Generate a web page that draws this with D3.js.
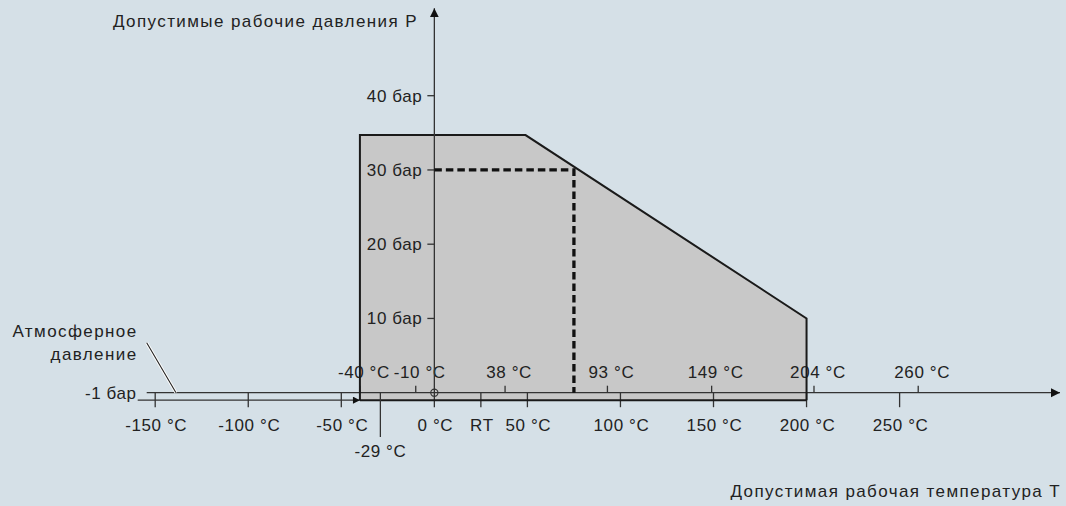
<!DOCTYPE html>
<html>
<head>
<meta charset="utf-8">
<script src="https://cdn.jsdelivr.net/npm/d3@7"></script>
<style>
  body { margin: 0; background: #d5e0e7; }
  svg { display: block; font-family: "Liberation Sans", Arial, sans-serif; }
  text { fill: #222; font-size: 17px; letter-spacing: 0.6px; }
  text.title { letter-spacing: 1.4px; }
</style>
</head>
<body>
<div id="chart"></div>
<script>
// Temperature ticks (°C) under the axis and their labels
const lowerTicks = [-150, -100, -50, 0, 25, 50, 100, 150, 200, 250];
const lowerLabels = ["-150 °C", "-100 °C", "-50 °C", "0 °C", "RT", "50 °C", "100 °C", "150 °C", "200 °C", "250 °C"];

// Equivalent temperatures shown above the axis
const upperTicks = [-40, -10, 38, 93, 149, 204, 260];
const upperLabels = ["-40 °C", "-10 °C", "38 °C", "93 °C", "149 °C", "204 °C", "260 °C"];

// Pressure ticks (bar)
const pressureTicks = [10, 20, 30, 40];

// Permitted operating range outline: [temperature °C, pressure bar]
const envelope = [[-40, -1], [-40, 34.7], [49, 34.7], [200, 10], [200, -1]];

// Example operating point
const opPoint = { t: 75, p: 30 };
const minTemp = -29;

const width = 1066;
const height = 506;

const svg = d3.select("#chart")
  .append("svg")
  .attr("width", width)
  .attr("height", height);

// Scales
const x = d3.scaleLinear().domain([-150, 250]).range([155.2, 899.6]);
const y = d3.scaleLinear().domain([0, 40]).range([392.7, 95.7]);

const axisColor = "#333";

// Arrow markers
const defs = svg.append("defs");
defs.append("marker")
  .attr("id", "arrow")
  .attr("viewBox", "0 0 10 10")
  .attr("refX", 10).attr("refY", 5)
  .attr("markerWidth", 9).attr("markerHeight", 10)
  .attr("markerUnits", "userSpaceOnUse")
  .attr("orient", "auto")
  .append("path")
  .attr("d", "M0,0L10,5L0,10Z")
  .attr("fill", "#111");

defs.append("marker")
  .attr("id", "arrowSmall")
  .attr("viewBox", "0 0 10 10")
  .attr("refX", 10).attr("refY", 5)
  .attr("markerWidth", 10).attr("markerHeight", 7)
  .attr("markerUnits", "userSpaceOnUse")
  .attr("orient", "auto")
  .append("path")
  .attr("d", "M0,0L10,5L0,10Z")
  .attr("fill", "#111");

// Envelope polygon
const line = d3.line()
  .x(d => x(d[0]))
  .y(d => y(d[1]));

svg.append("path")
  .attr("d", line(envelope) + "Z")
  .attr("fill", "#c8c8c8")
  .attr("stroke", "none");

// -1 bar line on the left, ending with a small arrow at the envelope
svg.append("line")
  .attr("x1", 137.7).attr("x2", x(envelope[0][0]))
  .attr("y1", y(-1)).attr("y2", y(-1))
  .attr("stroke", axisColor).attr("stroke-width", 1.3)
  .attr("marker-end", "url(#arrowSmall)");

// Horizontal (temperature) axis at 0 bar
svg.append("line")
  .attr("x1", 146.7).attr("x2", 1060)
  .attr("y1", y(0)).attr("y2", y(0))
  .attr("stroke", axisColor).attr("stroke-width", 1.3)
  .attr("marker-end", "url(#arrow)");

// Lower ticks
svg.append("g")
  .selectAll("line")
  .data(lowerTicks)
  .join("line")
  .attr("x1", d => x(d)).attr("x2", d => x(d))
  .attr("y1", y(0)).attr("y2", y(0) + 14.5)
  .attr("stroke", axisColor).attr("stroke-width", 1.3);

svg.append("g")
  .selectAll("text")
  .data(lowerTicks)
  .join("text")
  .attr("x", d => x(d) + 1)
  .attr("y", 430.5)
  .attr("text-anchor", "middle")
  .text((d, i) => lowerLabels[i]);

// Upper ticks
svg.append("g")
  .selectAll("line")
  .data(upperTicks)
  .join("line")
  .attr("x1", d => x(d)).attr("x2", d => x(d))
  .attr("y1", y(0) - 7).attr("y2", y(0))
  .attr("stroke", axisColor).attr("stroke-width", 1.3);

svg.append("g")
  .selectAll("text")
  .data(upperTicks)
  .join("text")
  .attr("x", d => x(d) + 4)
  .attr("y", 377.5)
  .attr("text-anchor", "middle")
  .text((d, i) => upperLabels[i]);

// Envelope outline (drawn over the axis lines)
svg.append("path")
  .attr("d", line(envelope))
  .attr("fill", "none")
  .attr("stroke", "#1a1a1a")
  .attr("stroke-width", 2)
  .attr("stroke-linejoin", "miter");

svg.append("line")
  .attr("x1", x(envelope[0][0])).attr("x2", x(envelope[envelope.length - 1][0]))
  .attr("y1", y(-1)).attr("y2", y(-1))
  .attr("stroke", "#1a1a1a").attr("stroke-width", 2);

// Vertical (pressure) axis
svg.append("line")
  .attr("x1", x(0)).attr("x2", x(0))
  .attr("y1", y(0)).attr("y2", 8.3)
  .attr("stroke", axisColor).attr("stroke-width", 1.3)
  .attr("marker-end", "url(#arrow)");

svg.append("g")
  .selectAll("line")
  .data(pressureTicks)
  .join("line")
  .attr("x1", x(0) - 7).attr("x2", x(0))
  .attr("y1", d => y(d)).attr("y2", d => y(d))
  .attr("stroke", axisColor).attr("stroke-width", 1.3);

svg.append("g")
  .selectAll("text")
  .data(pressureTicks)
  .join("text")
  .attr("x", x(0) - 12)
  .attr("y", d => y(d))
  .attr("dy", "0.35em")
  .attr("text-anchor", "end")
  .text(d => d + " бар");

// Dashed operating point lines
svg.append("path")
  .attr("d", line([[0, opPoint.p], [opPoint.t, opPoint.p], [opPoint.t, 0]]))
  .attr("fill", "none")
  .attr("stroke", "#111")
  .attr("stroke-width", 3.3)
  .attr("stroke-dasharray", "7.5,4");

// Origin circle
svg.append("circle")
  .attr("cx", x(0)).attr("cy", y(0))
  .attr("r", 3.6)
  .attr("fill", "none")
  .attr("stroke", axisColor).attr("stroke-width", 1.1);

// Minimum temperature marker
svg.append("line")
  .attr("x1", x(minTemp)).attr("x2", x(minTemp))
  .attr("y1", y(0)).attr("y2", 437)
  .attr("stroke", axisColor).attr("stroke-width", 1.3);

svg.append("text")
  .attr("x", x(minTemp))
  .attr("y", 457)
  .attr("text-anchor", "middle")
  .text(minTemp + " °C");

// Atmospheric pressure note
svg.append("text")
  .attr("x", 136.7).attr("y", y(0))
  .attr("dy", "0.35em")
  .attr("text-anchor", "end")
  .text("-1 бар");

svg.append("text")
  .attr("class", "title")
  .attr("x", 137.5).attr("y", 336.7)
  .attr("text-anchor", "end")
  .text("Атмосферное");

svg.append("text")
  .attr("class", "title")
  .attr("x", 137.5).attr("y", 360)
  .attr("text-anchor", "end")
  .text("давление");

svg.append("line")
  .attr("x1", 146.7).attr("y1", 342.7)
  .attr("x2", 176).attr("y2", y(0))
  .attr("stroke", "#fff").attr("stroke-width", 3);

svg.append("line")
  .attr("x1", 146.7).attr("y1", 342.7)
  .attr("x2", 176).attr("y2", y(0))
  .attr("stroke", "#222").attr("stroke-width", 1.1);

// Axis titles
svg.append("text")
  .attr("class", "title")
  .attr("x", 113).attr("y", 27)
  .text("Допустимые рабочие давления P");

svg.append("text")
  .attr("class", "title")
  .attr("x", 1061).attr("y", 496.5)
  .attr("text-anchor", "end")
  .text("Допустимая рабочая температура T");
</script>
</body>
</html>
